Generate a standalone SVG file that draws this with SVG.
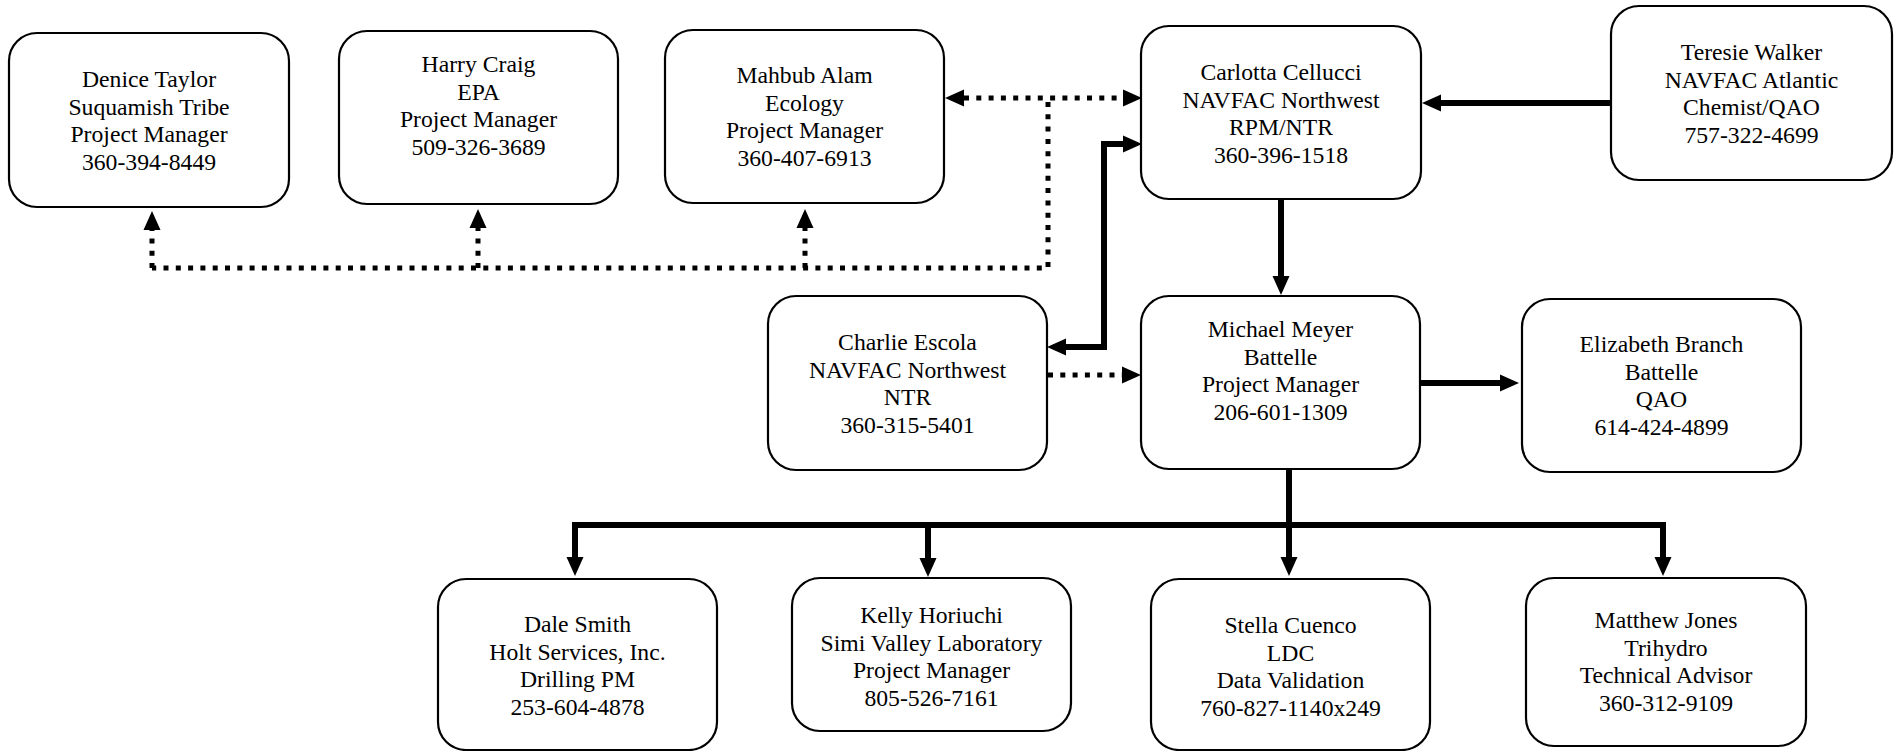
<svg xmlns="http://www.w3.org/2000/svg" width="1896" height="751" viewBox="0 0 1896 751">
<style>
  .box { fill: #ffffff; stroke: #000000; stroke-width: 2.2; }
  .lbl { font-family: "Liberation Serif", "Times New Roman", serif; font-size: 23.7px; fill: #000000; text-anchor: middle; }
  .solid { fill: none; stroke: #000000; stroke-width: 6; stroke-linejoin: miter; }
  .dot { fill: none; stroke: #000000; stroke-width: 5; stroke-dasharray: 5 7.3; }
</style>
<defs>
  <marker id="ah" markerUnits="userSpaceOnUse" markerWidth="20" markerHeight="18" viewBox="0 -9 20 18" refX="0" refY="0" orient="auto-start-reverse">
    <path d="M0,-8.5 L19,0 L0,8.5 z" fill="#000000"/>
  </marker>
</defs>

<g id="connectors">
  <path class="dot" d="M964,98 H1123" marker-start="url(#ah)" marker-end="url(#ah)"/>
  <path class="dot" d="M1048,102 V268 H152"/>
  <path class="dot" d="M152,268 V230" marker-end="url(#ah)"/>
  <path class="dot" d="M478,268 V228" marker-end="url(#ah)"/>
  <path class="dot" d="M805,268 V228" marker-end="url(#ah)"/>
  <path class="solid" d="M1066,347 H1104 V144 H1123" marker-start="url(#ah)" marker-end="url(#ah)"/>
  <path class="solid" d="M1610,103 H1441" marker-end="url(#ah)"/>
  <path class="solid" d="M1281,199 V276" marker-end="url(#ah)"/>
  <path class="dot" d="M1048,375 H1122" marker-end="url(#ah)"/>
  <path class="solid" d="M1420,383 H1500" marker-end="url(#ah)"/>
  <path class="solid" d="M1289,469 V557" marker-end="url(#ah)"/>
  <path class="solid" d="M575,557 V525 H1663 V557" marker-start="url(#ah)" marker-end="url(#ah)"/>
  <path class="solid" d="M928,525 V558" marker-end="url(#ah)"/>
</g>

<g id="denice">
  <rect class="box" x="9" y="33" width="280" height="174" rx="28"/>
  <text class="lbl" x="149" y="87">Denice Taylor</text>
  <text class="lbl" x="149" y="114.5">Suquamish Tribe</text>
  <text class="lbl" x="149" y="142">Project Manager</text>
  <text class="lbl" x="149" y="169.5">360-394-8449</text>
</g>
<g id="harry">
  <rect class="box" x="339" y="31" width="279" height="173" rx="28"/>
  <text class="lbl" x="478.5" y="72">Harry Craig</text>
  <text class="lbl" x="478.5" y="99.5">EPA</text>
  <text class="lbl" x="478.5" y="127">Project Manager</text>
  <text class="lbl" x="478.5" y="154.5">509-326-3689</text>
</g>
<g id="mahbub">
  <rect class="box" x="665" y="30" width="279" height="173" rx="28"/>
  <text class="lbl" x="804.5" y="83">Mahbub Alam</text>
  <text class="lbl" x="804.5" y="110.5">Ecology</text>
  <text class="lbl" x="804.5" y="138">Project Manager</text>
  <text class="lbl" x="804.5" y="165.5">360-407-6913</text>
</g>
<g id="carlotta">
  <rect class="box" x="1141" y="26" width="280" height="173" rx="28"/>
  <text class="lbl" x="1281" y="80">Carlotta Cellucci</text>
  <text class="lbl" x="1281" y="107.5">NAVFAC Northwest</text>
  <text class="lbl" x="1281" y="135">RPM/NTR</text>
  <text class="lbl" x="1281" y="162.5">360-396-1518</text>
</g>
<g id="teresie">
  <rect class="box" x="1611" y="6" width="281" height="174" rx="28"/>
  <text class="lbl" x="1751.5" y="60">Teresie Walker</text>
  <text class="lbl" x="1751.5" y="87.5">NAVFAC Atlantic</text>
  <text class="lbl" x="1751.5" y="115">Chemist/QAO</text>
  <text class="lbl" x="1751.5" y="142.5">757-322-4699</text>
</g>
<g id="charlie">
  <rect class="box" x="768" y="296" width="279" height="174" rx="28"/>
  <text class="lbl" x="907.5" y="350">Charlie Escola</text>
  <text class="lbl" x="907.5" y="377.5">NAVFAC Northwest</text>
  <text class="lbl" x="907.5" y="405">NTR</text>
  <text class="lbl" x="907.5" y="432.5">360-315-5401</text>
</g>
<g id="michael">
  <rect class="box" x="1141" y="296" width="279" height="173" rx="28"/>
  <text class="lbl" x="1280.5" y="337">Michael Meyer</text>
  <text class="lbl" x="1280.5" y="364.5">Battelle</text>
  <text class="lbl" x="1280.5" y="392">Project Manager</text>
  <text class="lbl" x="1280.5" y="419.5">206-601-1309</text>
</g>
<g id="elizabeth">
  <rect class="box" x="1522" y="299" width="279" height="173" rx="28"/>
  <text class="lbl" x="1661.5" y="352">Elizabeth Branch</text>
  <text class="lbl" x="1661.5" y="379.5">Battelle</text>
  <text class="lbl" x="1661.5" y="407">QAO</text>
  <text class="lbl" x="1661.5" y="434.5">614-424-4899</text>
</g>
<g id="dale">
  <rect class="box" x="438" y="579" width="279" height="171" rx="28"/>
  <text class="lbl" x="577.5" y="632">Dale Smith</text>
  <text class="lbl" x="577.5" y="659.5">Holt Services, Inc.</text>
  <text class="lbl" x="577.5" y="687">Drilling PM</text>
  <text class="lbl" x="577.5" y="714.5">253-604-4878</text>
</g>
<g id="kelly">
  <rect class="box" x="792" y="578" width="279" height="153" rx="28"/>
  <text class="lbl" x="931.5" y="623">Kelly Horiuchi</text>
  <text class="lbl" x="931.5" y="650.5">Simi Valley Laboratory</text>
  <text class="lbl" x="931.5" y="678">Project Manager</text>
  <text class="lbl" x="931.5" y="705.5">805-526-7161</text>
</g>
<g id="stella">
  <rect class="box" x="1151" y="579" width="279" height="171" rx="28"/>
  <text class="lbl" x="1290.5" y="633">Stella Cuenco</text>
  <text class="lbl" x="1290.5" y="660.5">LDC</text>
  <text class="lbl" x="1290.5" y="688">Data Validation</text>
  <text class="lbl" x="1290.5" y="715.5">760-827-1140x249</text>
</g>
<g id="matthew">
  <rect class="box" x="1526" y="578" width="280" height="168" rx="28"/>
  <text class="lbl" x="1666" y="628">Matthew Jones</text>
  <text class="lbl" x="1666" y="655.5">Trihydro</text>
  <text class="lbl" x="1666" y="683">Technical Advisor</text>
  <text class="lbl" x="1666" y="710.5">360-312-9109</text>
</g>
</svg>
